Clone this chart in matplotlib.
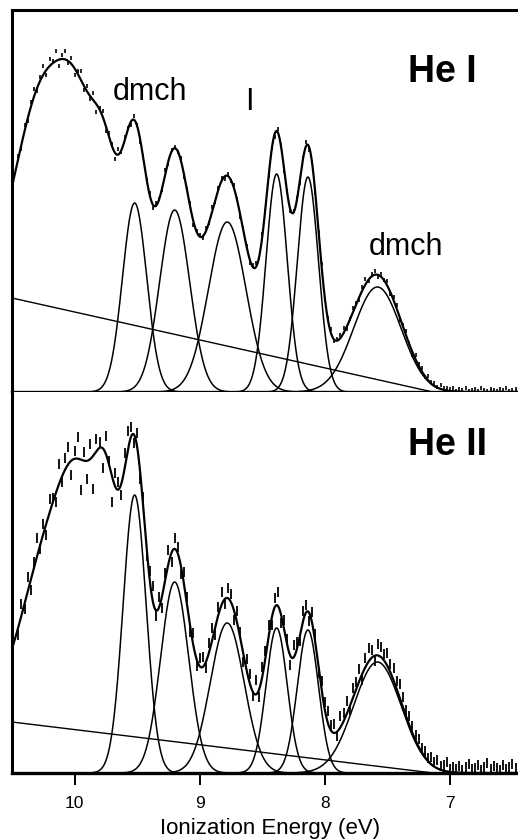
import numpy as np
import matplotlib.pyplot as plt

plt.rcParams['font.family'] = ['Liberation Sans', 'DejaVu Sans']

# energy grid of the measured points (eV)
e_start = 10.45
e_step = 0.025

# He I fit: resolved bands (centre eV, height, sigma eV)
hei_centres = [9.52, 9.20, 8.78, 8.385, 8.135, 7.58]
hei_heights = [189, 182, 170, 218, 215, 105]
hei_widths = [0.097, 0.12, 0.15, 0.085, 0.085, 0.19]
# unresolved bands above 9.6 eV (envelope only)
hei_extra_centres = [10.25, 9.95, 9.75]
hei_extra_heights = [212, 135, 110]
hei_extra_widths = [0.22, 0.15, 0.10]
# background line: height at 10.5 eV, energy where it hits zero
hei_bg = [94, 7.14]

# He II fit
heii_centres = [9.52, 9.20, 8.78, 8.385, 8.135, 7.58]
heii_heights = [278, 191, 150, 145, 143, 111]
heii_widths = [0.092, 0.112, 0.135, 0.085, 0.085, 0.19]
heii_extra_centres = [10.2, 9.92, 9.74]
heii_extra_heights = [170, 170, 140]
heii_extra_widths = [0.23, 0.17, 0.09]
heii_bg = [51, 7.14]

# deviation of measured points from the fit
hei_resid = [
    3, -4, 6, -2, 5, 8, -3, 4, 9, -5, 7, 2, 10, -6, 4, 8, -2, 6, -7, 3,
    9, -4, 5, -3, 7, -8, 2, 6, -5, 4, 3, -6, 5, -2, 4, 2, -3, 4, 1, -2,
    3, -1, 2, -4, 3, 1, -2, 4, -3, 2, 1, -1, 3, -2, 2, 4, -3, 1, 2, -2,
    3, -1, 4, -2, 1, 3, -3, 2, -1, 4, 2, -2, 3, 1, -3, 2, 4, -1, 3, -2,
    1, 2, -3, 4, 1, -2, 3, -1, 2, 3, -2, 1, 4, -3, 2, 1, -1, 3, -2, 2,
    4, -1, 2, 3, 5, -2, 1, 4, 2, -3, 3, 5, -1, 2, 4, -2, 3, 1, 5, -2,
    3, 4, -2, 2, 5, 1, -3, 4, 2, 3, -1, 4, 2, 3, 1, 4, 2, 3, 2, 3,
    1, 3, 2, 4, 1, 2, 3, 1, 4, 2, 1, 3, 2, 1, 3, 2, 4, 1, 2, 3,
]
heii_resid = [
    -8, 12, -5, 15, -10, 6, 18, -4, 10, -12, 14, 5, -9, 20, -6, 11, 17, -14, 8, 22,
    -30, 9, -18, 15, -34, 12, 6, -20, 18, 3, -25, 14, 8, -12, 16, 20, 10, -8, 14, -6,
    12, -10, 8, 15, -6, 10, -12, 7, 14, -9, 11, 6, -8, 12, 9, -5, 13, -7, 8, 10,
    -6, 9, 12, -8, 7, 13, -5, 10, 8, -9, 12, 6, -7, 11, 9, -4, 14, -8, 10, 7,
    12, -6, 9, 14, -8, 10, 6, -9, 13, 8, -5, 11, 7, -8, 12, 9, -6, 10, 8, 12,
    6, 9, -5, 11, 8, 13, -4, 10, 7, 12, -6, 9, 14, 8, -5, 11, 10, 7, 13, 9,
    12, 8, 14, 10, 6, 9, 7, 5, 8, 4, 6, 3, 7, 5, 8, 4, 6, 9, 3, 5,
    4, 7, 3, 6, 9, 4, 5, 8, 3, 6, 10, 4, 7, 5, 3, 8, 4, 6, 9, 5,
]

xticks = [10, 9, 8, 7]


def gauss(x, c, h, w):
    return h * np.exp(-0.5 * ((x - c) / w) ** 2)


def background(x, bg):
    h0, e0 = bg
    return np.clip(h0 * (x - e0) / (10.5 - e0), 0, None)


def model(x, centres, heights, widths, xc, xh, xw, bg):
    comps = [gauss(x, c, h, w) for c, h, w in zip(centres, heights, widths)]
    hidden = sum(gauss(x, c, h, w) for c, h, w in zip(xc, xh, xw))
    base = background(x, bg)
    return comps, base, base + sum(comps) + hidden


def draw_panel(ax, centres, heights, widths, xc, xh, xw, bg, resid, ms, mew):
    x = np.linspace(10.6, 6.4, 1500)
    comps, base, env = model(x, centres, heights, widths, xc, xh, xw, bg)
    for c in comps:
        ax.plot(x, c, color='k', lw=1.1)
    ax.plot(x, base, color='k', lw=1.0)
    ax.plot(x, env, color='k', lw=1.6)

    e = e_start - e_step * np.arange(len(resid))
    _, _, env_e = model(e, centres, heights, widths, xc, xh, xw, bg)
    ax.plot(e, env_e + np.array(resid), ls='none', marker='|',
            ms=ms, mew=mew, color='k')


fig = plt.figure(figsize=(5.18, 8.4), dpi=100)
ax1 = fig.add_axes([12 / 518, 1 - 392 / 840, 1 - 12 / 518, 382 / 840])
ax2 = fig.add_axes([12 / 518, 1 - 773 / 840, 1 - 12 / 518, 381 / 840])

draw_panel(ax1, hei_centres, hei_heights, hei_widths, hei_extra_centres,
           hei_extra_heights, hei_extra_widths, hei_bg, hei_resid, 3.5, 1.2)
draw_panel(ax2, heii_centres, heii_heights, heii_widths, heii_extra_centres,
           heii_extra_heights, heii_extra_widths, heii_bg, heii_resid, 7, 1.3)

for ax in (ax1, ax2):
    ax.set_xlim(10.5, 6.456)
    ax.set_yticks([])
    ax.set_xticks(xticks)
    ax.spines['right'].set_visible(False)
    ax.spines['left'].set_linewidth(2.2)

ax1.set_ylim(0, 382)
ax2.set_ylim(0, 381)

ax1.spines['top'].set_linewidth(2.2)
ax1.spines['bottom'].set_linewidth(1.7)
ax1.tick_params(axis='x', direction='out', length=8, width=1.1,
                labelbottom=False)

ax2.spines['top'].set_visible(False)
ax2.spines['bottom'].set_linewidth(2.4)
ax2.tick_params(axis='x', direction='out', length=8.6, width=1.4,
                labelsize=12.5, pad=8)
ax2.set_xticklabels(['10', '9', '8', '7'])

ax1.text(9.696, 292, 'dmch', fontsize=22, ha='left', va='baseline')
ax1.text(8.6, 282, 'I', fontsize=22, ha='center', va='baseline')
ax1.text(7.648, 137, 'dmch', fontsize=22, ha='left', va='baseline')
ax1.text(7.336, 310, 'He I', fontsize=27, fontweight='bold',
         ha='left', va='baseline')
ax2.text(7.336, 318, 'He II', fontsize=27, fontweight='bold',
         ha='left', va='baseline')

fig.text(270 / 518, 1 - 834 / 840, 'Ionization Energy (eV)', fontsize=16,
         ha='center', va='baseline')

fig.savefig('out.png', dpi=100)
